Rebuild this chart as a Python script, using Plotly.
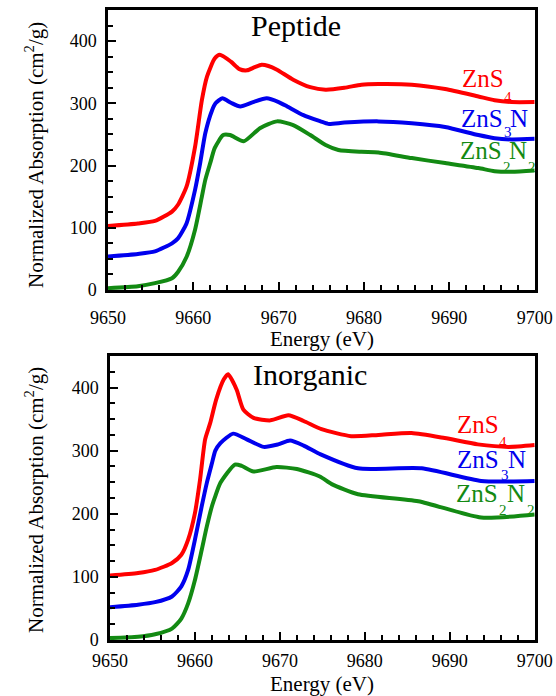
import plotly.graph_objects as go

# ---- Peptide series (energy in eV, absorption in cm^2/g) ----
pep_zns4_e = [9650, 9653.5, 9655.5, 9657.5, 9658.2, 9659.2, 9660.2, 9661.0, 9661.6, 9662.5,
              9663.1, 9664.4, 9665.4, 9666.3, 9667.2, 9668.0, 9668.8, 9669.8, 9671.7, 9673.7,
              9675.5, 9677.7, 9679.7, 9681.7, 9685.6, 9689.5, 9693.4, 9695.3, 9697.3, 9700]
pep_zns4_v = [103, 107, 111, 126, 137, 166, 230, 305, 343, 372,
              378, 367, 355, 353, 358, 362, 360, 354, 338, 326,
              322, 325, 330, 331, 330, 323, 311, 305, 302, 302]

pep_zns3n_e = [9650, 9653.5, 9655.5, 9657.5, 9658.2, 9659.2, 9660.2, 9660.8, 9661.4, 9662.2,
               9662.6, 9663.4, 9664.4, 9665.5, 9667.0, 9668.6, 9670.0, 9671.0, 9672.9, 9674.9,
               9675.8, 9677.7, 9681.7, 9685.6, 9689.5, 9693.4, 9695.3, 9697.3, 9700]
pep_zns3n_v = [54, 58, 62, 75, 83, 107, 161, 204, 252, 289,
               300, 308, 301, 295, 302, 308, 302, 295, 281, 271,
               267, 269, 271, 268, 262, 249, 244, 242, 243]

pep_zns2n2_e = [9650, 9653.5, 9655.5, 9657.5, 9658.2, 9659.2, 9660.2, 9661.0, 9661.4, 9662.0,
                9662.5, 9663.5, 9664.3, 9665.9, 9667.8, 9669.8, 9671.7, 9673.7, 9675.5, 9677.0,
                9679.7, 9681.7, 9685.6, 9689.5, 9693.4, 9695.3, 9697.3, 9700]
pep_zns2n2_v = [3, 6, 11, 19, 29, 53, 97, 150, 177, 205,
                228, 249, 249, 239, 260, 271, 265, 249, 233, 225,
                222, 221, 212, 204, 196, 191, 190, 192]

# ---- Inorganic series ----
ino_zns4_e = [9650, 9653.3, 9655.3, 9657.3, 9658.4, 9659.2, 9660.0, 9660.6, 9661.2, 9661.8,
              9662.5, 9663.4, 9663.9, 9664.9, 9665.7, 9666.9, 9668.9, 9671.0, 9672.8, 9674.9,
              9678.4, 9681.6, 9685.5, 9689.4, 9693.3, 9696.9, 9700]
ino_zns4_v = [102, 106, 111, 122, 135, 159, 201, 254, 318, 344,
              381, 413, 421, 397, 365, 352, 348, 356, 347, 334,
              323, 325, 328, 320, 310, 306, 309]

ino_zns3n_e = [9650, 9653.3, 9655.3, 9657.3, 9658.4, 9659.2, 9660.0, 9660.8, 9661.4, 9662.0,
               9662.4, 9663.0, 9664.5, 9666.1, 9668.1, 9669.8, 9671.2, 9672.8, 9674.8, 9679.2,
               9686.7, 9693.7, 9700]
ino_zns3n_v = [52, 56, 60, 69, 85, 111, 159, 212, 249, 280,
               300, 312, 327, 318, 306, 310, 316, 308, 294, 272,
               272, 252, 252]

ino_zns2n2_e = [9650, 9653.3, 9655.3, 9657.3, 9658.4, 9659.2, 9660.0, 9660.8, 9661.4, 9662.0,
                9662.4, 9663.0, 9664.7, 9665.5, 9666.9, 9669.6, 9672.0, 9674.7, 9676.1, 9679.2,
                9686.3, 9693.7, 9700]
ino_zns2n2_v = [3, 5, 9, 18, 34, 58, 95, 143, 180, 212,
                228, 249, 278, 276, 267, 274, 271, 259, 247, 231,
                220, 194, 199]

x_ticks = [9650, 9660, 9670, 9680, 9690, 9700]
y_ticks = [0, 100, 200, 300, 400]

RED, BLUE, GREEN = "#ff0000", "#0000ee", "#138a13"
SERIF = "Liberation Serif"
W, H = 556, 696
ML, MR, MT, MB = 100, 20, 8, 50   # page margins around the two panels


def px(x, y):
    """Pixel position on the page -> paper coordinates of the plotting area."""
    return (x - ML) / (W - ML - MR), (H - MB - y) / (H - MT - MB)


fig = go.Figure()

panels = [
    ("x", "y", [(pep_zns4_e, pep_zns4_v, RED), (pep_zns3n_e, pep_zns3n_v, BLUE),
                (pep_zns2n2_e, pep_zns2n2_v, GREEN)]),
    ("x2", "y2", [(ino_zns4_e, ino_zns4_v, RED), (ino_zns3n_e, ino_zns3n_v, BLUE),
                  (ino_zns2n2_e, ino_zns2n2_v, GREEN)]),
]
for xa, ya, series in panels:
    for e, v, c in series:
        fig.add_trace(go.Scatter(x=e, y=v, xaxis=xa, yaxis=ya, mode="lines",
                                 line=dict(color=c, width=4, shape="spline", smoothing=0.6),
                                 showlegend=False))


def x_axis(domain, anchor, standoff):
    return dict(range=[9650, 9700], tickvals=x_ticks, domain=domain, anchor=anchor,
                showline=True, linecolor="black", linewidth=2.5, mirror=True,
                showgrid=False, zeroline=False, automargin=False,
                ticks="inside", tickcolor="black", tickwidth=2, ticklen=8,
                ticklabelstandoff=standoff,
                tickfont=dict(family=SERIF, size=18, color="black"),
                minor=dict(dtick=2, ticks="inside", ticklen=5, tickwidth=2, tickcolor="black"))


def y_axis(domain, anchor):
    return dict(range=[0, 450], tickvals=y_ticks, domain=domain, anchor=anchor,
                showline=True, linecolor="black", linewidth=2.5, mirror=True,
                showgrid=False, zeroline=False, automargin=False,
                ticks="inside", tickcolor="black", tickwidth=2, ticklen=8,
                ticklabelstandoff=5,
                tickfont=dict(family=SERIF, size=18, color="black"),
                minor=dict(dtick=25, ticks="inside", ticklen=5, tickwidth=2, tickcolor="black"))


fig.update_layout(
    width=W, height=H,
    margin=dict(l=ML, r=MR, t=MT, b=MB),
    paper_bgcolor="white", plot_bgcolor="white",
    xaxis=x_axis([px(108, 0)[0], px(534.7, 0)[0]], "y", 10),
    yaxis=y_axis([px(0, 290)[1], px(0, 10)[1]], "x"),
    xaxis2=x_axis([px(110, 0)[0], px(534.7, 0)[0]], "y2", 3),
    yaxis2=y_axis([px(0, 640)[1], px(0, 356)[1]], "x2"),
)


def add_text(text, x, baseline, size, color="black", anchor="left"):
    """Text placed by the pixel position of its baseline."""
    xp, yp = px(x, baseline - 0.335 * size)
    fig.add_annotation(text=text, x=xp, y=yp, xref="paper", yref="paper",
                       xanchor=anchor, yanchor="middle", showarrow=False, borderpad=0,
                       font=dict(family=SERIF, size=size, color=color))


def add_vertical(text, x, y, size):
    xp, yp = px(x, y)
    fig.add_annotation(text=text, x=xp, y=yp, xref="paper", yref="paper",
                       xanchor="center", yanchor="middle", textangle=-90,
                       showarrow=False, borderpad=0,
                       font=dict(family=SERIF, size=size, color="black"))


# axis titles
y_title = "Normalized Absorption (cm<sup>2</sup>/g)"
add_text("Energy (eV)", 322, 346, 21, anchor="center")
add_text("Energy (eV)", 322, 691, 21, anchor="center")
add_vertical(y_title, 34, 155, 21)
add_vertical(y_title, 34, 500, 21)

# panel titles
add_text("Peptide", 250, 35.7, 30)
add_text("Inorganic", 252, 384.3, 30)

# series labels, with subscripts set lower and smaller
MAIN, SUB = 25, 15
label_rows = [
    # (pieces [(text, x, is_sub)], main baseline, sub baseline, color)
    ([("ZnS", 461, False), ("4", 503, True)], 87.3, 101.7, RED),
    ([("ZnS", 460, False), ("3", 503, True), ("N", 509, False)], 127.3, 136.7, BLUE),
    ([("ZnS", 459, False), ("2", 502, True), ("N", 508, False), ("2", 527, True)], 159.3, 172, GREEN),
    ([("ZnS", 456, False), ("4", 498, True)], 433.3, 446.7, RED),
    ([("ZnS", 456, False), ("3", 500, True), ("N", 507, False)], 468.3, 480, BLUE),
    ([("ZnS", 455, False), ("2", 498, True), ("N", 506, False), ("2", 526, True)], 501.7, 515, GREEN),
]
for pieces, base, sub_base, color in label_rows:
    for text, x, is_sub in pieces:
        if is_sub:
            add_text(text, x, sub_base, SUB, color)
        else:
            add_text(text, x, base, MAIN, color)

fig.write_html("out.html")
